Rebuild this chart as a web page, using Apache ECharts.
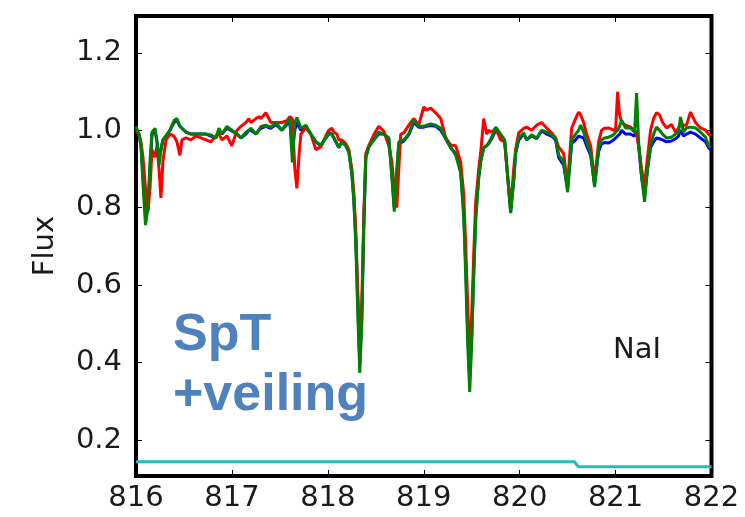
<!DOCTYPE html>
<html>
<head>
<meta charset="utf-8">
<script src="https://cdn.jsdelivr.net/npm/echarts@6/dist/echarts.min.js"></script>
<style>
html,body{margin:0;padding:0;background:#fff;}
#chart{width:745px;height:517px;}
</style>
</head>
<body>
<div id="chart"></div>
<script>
// Wavelength grid (nm)
const wavelength = [
  816.000, 816.031, 816.052, 816.073, 816.099, 816.125, 816.146, 816.167, 816.198, 816.219,
  816.240, 816.260, 816.281, 816.313, 816.354, 816.396, 816.427, 816.458, 816.479, 816.521,
  816.573, 816.625, 816.677, 816.729, 816.781, 816.833, 816.865, 816.896, 816.948, 817.000,
  817.052, 817.094, 817.146, 817.177, 817.198, 817.250, 817.281, 817.302, 817.354, 817.406,
  817.458, 817.521, 817.573, 817.604, 817.630, 817.656, 817.677, 817.698, 817.719, 817.771,
  817.823, 817.875, 817.927, 817.979, 818.010, 818.042, 818.063, 818.094, 818.115, 818.146,
  818.188, 818.219, 818.250, 818.271, 818.292, 818.313, 818.333, 818.354, 818.375, 818.396,
  818.427, 818.479, 818.531, 818.583, 818.635, 818.667, 818.693, 818.719, 818.740, 818.760,
  818.792, 818.844, 818.896, 818.948, 819.000, 819.031, 819.073, 819.125, 819.177, 819.229,
  819.281, 819.333, 819.385, 819.417, 819.438, 819.458, 819.479, 819.500, 819.521, 819.542,
  819.573, 819.594, 819.625, 819.656, 819.677, 819.708, 819.750, 819.802, 819.844, 819.875,
  819.906, 819.938, 819.958, 819.990, 820.042, 820.073, 820.125, 820.177, 820.229, 820.281,
  820.333, 820.375, 820.406, 820.458, 820.500, 820.542, 820.583, 820.615, 820.635, 820.667,
  820.698, 820.740, 820.781, 820.823, 820.854, 820.885, 820.927, 820.979, 821.000, 821.021,
  821.042, 821.063, 821.104, 821.156, 821.198, 821.219, 821.240, 821.271, 821.302, 821.333,
  821.365, 821.396, 821.427, 821.458, 821.490, 821.531, 821.583, 821.625, 821.656, 821.677,
  821.708, 821.740, 821.781, 821.833, 821.885, 821.938, 821.969, 821.990
];

const fluxBlue = [
  1.005, 0.99, 0.96, 0.88, 0.78, 0.80, 0.90, 0.99, 1.0, 0.97,
  0.92, 0.95, 0.975, 0.985, 1.0, 1.02, 1.025, 1.01, 1.005, 0.995,
  0.99, 0.99, 0.99, 0.99, 0.985, 0.98, 1.0, 0.99, 1.005, 0.998,
  0.99, 0.98, 0.99, 1.0, 1.0, 0.99, 1.0, 1.005, 1.01, 1.005,
  1.015, 1.0, 1.015, 1.02, 0.95, 1.0, 1.02, 1.01, 1.0, 1.01,
  0.99, 0.97, 0.96, 0.98, 0.99, 0.99, 0.98, 0.965, 0.955, 0.97,
  0.96, 0.945, 0.89, 0.82, 0.72, 0.55, 0.40, 0.52, 0.76, 0.93,
  0.957, 0.975, 0.99, 0.99, 0.98, 0.89, 0.80, 0.88, 0.965, 0.965,
  0.972, 0.988, 1.02, 1.008, 1.008, 1.01, 1.012, 1.01, 1.0, 0.978,
  0.955, 0.94, 0.895, 0.79, 0.65, 0.48, 0.36, 0.47, 0.64, 0.78,
  0.88, 0.92, 0.955, 0.96, 0.965, 0.978, 1.0, 0.985, 0.97, 0.88,
  0.79, 0.87, 0.94, 0.975, 0.99, 0.975, 0.985, 0.978, 0.998, 0.99,
  0.985, 0.975, 0.93, 0.91, 0.85, 0.965, 0.975, 0.985, 0.99, 0.98,
  0.96, 0.935, 0.86, 0.945, 0.965, 0.968, 0.967, 0.975, 0.98, 0.985,
  0.99, 1.0, 0.99, 0.99, 0.985, 1.0, 0.96, 0.88, 0.83, 0.90,
  0.955, 0.97, 0.98, 0.978, 0.975, 0.97, 0.972, 0.978, 0.985, 1.0,
  0.985, 0.99, 0.995, 0.99, 0.98, 0.97, 0.955, 0.95
];

const fluxRed = [
  1.0, 0.99, 0.97, 0.93, 0.85, 0.79, 0.85, 0.95, 0.93, 0.96,
  0.90, 0.825, 0.92, 0.975, 0.99, 0.985, 0.97, 0.935, 0.975, 0.98,
  0.975, 0.985, 0.98, 0.975, 0.97, 0.985, 0.99, 0.975, 0.985, 0.96,
  1.0, 1.01, 1.02, 1.03, 1.02, 1.03, 1.035, 1.03, 1.045, 1.02,
  1.02, 1.02, 1.025, 1.035, 1.03, 0.90, 0.85, 0.93, 0.99, 1.006,
  0.99, 0.95, 0.957, 0.985, 1.0, 1.005, 0.995, 0.99, 0.975, 0.975,
  0.965, 0.95, 0.90, 0.84, 0.74, 0.58, 0.45, 0.55, 0.78, 0.94,
  0.96, 0.988, 1.01, 0.998, 0.96, 0.92, 0.85, 0.80, 0.90, 0.99,
  0.993, 1.013, 1.03, 1.013, 1.06, 1.052, 1.057, 1.045, 1.03, 0.98,
  0.962, 0.96, 0.918, 0.833, 0.70, 0.55, 0.42, 0.52, 0.68, 0.815,
  0.90, 0.943, 1.03, 0.99, 1.0, 0.995, 1.005, 0.975, 0.97, 0.88,
  0.80, 0.90, 0.95, 0.993, 1.005, 1.008, 1.0, 1.013, 1.02, 1.006,
  0.993, 0.98, 0.957, 0.94, 0.86, 1.005, 1.03, 1.047, 1.04, 1.02,
  0.99, 0.96, 0.87, 0.97, 1.0, 1.005, 1.006, 1.0, 1.0, 1.099,
  1.04, 1.02, 1.013, 1.008, 0.998, 0.99, 0.96, 0.90, 0.858, 0.93,
  1.0, 1.03, 1.045, 1.04, 1.02, 1.006, 1.015, 0.995, 1.005, 1.02,
  1.013, 1.013, 1.047, 1.02, 1.006, 1.0, 0.99, 0.985
];

const fluxGreen = [
  1.01, 0.99, 0.96, 0.86, 0.755, 0.80, 0.92, 0.995, 1.005, 0.97,
  0.91, 0.95, 0.975, 0.985, 1.0, 1.025, 1.03, 1.01, 1.005, 0.995,
  0.99, 0.99, 0.99, 0.99, 0.988, 0.98, 1.005, 0.99, 1.01, 1.0,
  0.99, 0.98, 0.995, 1.0, 1.005, 0.99, 1.0, 1.01, 1.013, 1.008,
  1.02, 1.0, 1.02, 1.03, 0.917, 1.02, 1.033, 1.02, 1.005, 1.013,
  0.99, 0.97, 0.962, 0.98, 0.995, 0.99, 0.98, 0.965, 0.955, 0.97,
  0.96, 0.943, 0.89, 0.82, 0.70, 0.52, 0.373, 0.50, 0.75, 0.93,
  0.957, 0.975, 0.995, 0.99, 0.98, 0.88, 0.79, 0.90, 0.97, 0.97,
  0.975, 0.99, 1.026, 1.01, 1.01, 1.013, 1.016, 1.013, 1.005, 0.98,
  0.955, 0.936, 0.89, 0.773, 0.62, 0.45, 0.324, 0.45, 0.62, 0.77,
  0.877, 0.92, 0.955, 0.96, 0.967, 0.982, 1.008, 0.99, 0.975, 0.88,
  0.786, 0.87, 0.943, 0.98, 0.993, 0.975, 0.988, 0.98, 1.0, 0.995,
  0.988, 0.98, 0.936, 0.918, 0.84, 0.975, 0.99, 1.0, 1.013, 0.995,
  0.97, 0.943, 0.853, 0.955, 0.975, 0.98, 0.982, 0.988, 0.995, 1.0,
  1.01, 1.026, 1.006, 1.006, 0.995, 1.096, 0.97, 0.88, 0.815, 0.90,
  0.96, 0.99, 1.008, 1.0, 0.99, 0.98, 0.982, 0.99, 0.995, 1.034,
  0.995, 1.006, 1.008, 1.006, 0.995, 0.982, 0.96, 0.955
];

// Veiling (cyan) curve
const veilWavelength = [816.0, 820.57, 820.61, 822.0];
const veilFlux = [0.144, 0.144, 0.131, 0.131];

// Axis ticks
const xTicks = [816, 817, 818, 819, 820, 821, 822];
const yTicks = [0.2, 0.4, 0.6, 0.8, 1.0, 1.2];

const pairs = (xs, ys) => xs.map((x, i) => [x, ys[i]]);

const FONT = '"DejaVu Sans", sans-serif';
const chart = echarts.init(document.getElementById('chart'), null, {renderer: 'canvas'});

const tickStyle = {show: true, inside: true, length: 6, lineStyle: {color: '#000', width: 1}};

const lineSeries = (name, data, color, z) => ({
  name, type: 'line', data, showSymbol: false, symbol: 'none', z,
  lineStyle: {color, width: 3}, itemStyle: {color}, animation: false
});

chart.setOption({
  backgroundColor: '#fff',
  animation: false,
  grid: {left: 136, right: 33.5, top: 16, bottom: 41, show: true, borderWidth: 4, borderColor: '#000', backgroundColor: 'transparent'},
  xAxis: [
    {
      type: 'value', min: 816, max: 822, interval: 1, position: 'bottom',
      axisLine: {show: false}, splitLine: {show: false},
      axisTick: Object.assign({}, tickStyle, {customValues: xTicks}),
      axisLabel: {customValues: xTicks, fontSize: 29, fontFamily: FONT, color: '#1a1a1a', margin: 8, formatter: v => String(v)}
    },
    {
      type: 'value', min: 816, max: 822, interval: 1, position: 'top',
      axisLine: {show: false}, splitLine: {show: false},
      axisTick: Object.assign({}, tickStyle, {customValues: xTicks}), axisLabel: {show: false}
    }
  ],
  yAxis: [
    {
      type: 'value', min: 0.107, max: 1.295, position: 'left',
      axisLine: {show: false}, splitLine: {show: false},
      axisTick: Object.assign({}, tickStyle, {customValues: yTicks}),
      axisLabel: {customValues: yTicks, fontSize: 29, fontFamily: FONT, color: '#1a1a1a', margin: 14, formatter: v => v.toFixed(1)},
      name: 'Flux', nameLocation: 'middle', nameGap: 76,
      nameTextStyle: {fontSize: 29, fontFamily: FONT, color: '#1a1a1a'}
    },
    {
      type: 'value', min: 0.107, max: 1.295, position: 'right',
      axisLine: {show: false}, splitLine: {show: false},
      axisTick: Object.assign({}, tickStyle, {customValues: yTicks}),
      axisLabel: {show: false}
    }
  ],
  series: [
    lineSeries('veiling', pairs(veilWavelength, veilFlux), '#1fbfbf', 2),
    lineSeries('blue', pairs(wavelength, fluxBlue), '#0000ff', 3),
    lineSeries('red', pairs(wavelength, fluxRed), '#ff0000', 4),
    lineSeries('green', pairs(wavelength, fluxGreen), '#008000', 5)
  ],
  graphic: [
    {type: 'text', x: 173, y: 336, z: 10, style: {text: 'SpT', font: 'bold 52px "Liberation Sans", Arial, sans-serif', fill: '#4f81bd', align: 'left', verticalAlign: 'middle'}},
    {type: 'text', x: 173, y: 396, z: 10, style: {text: '+veiling', font: 'bold 52px "Liberation Sans", Arial, sans-serif', fill: '#4f81bd', align: 'left', verticalAlign: 'middle'}},
    {type: 'text', x: 613, y: 350, z: 10, style: {text: 'NaI', font: '29px "DejaVu Sans", sans-serif', fill: '#1a1a1a', align: 'left', verticalAlign: 'middle'}}
  ]
});
</script>
</body>
</html>
